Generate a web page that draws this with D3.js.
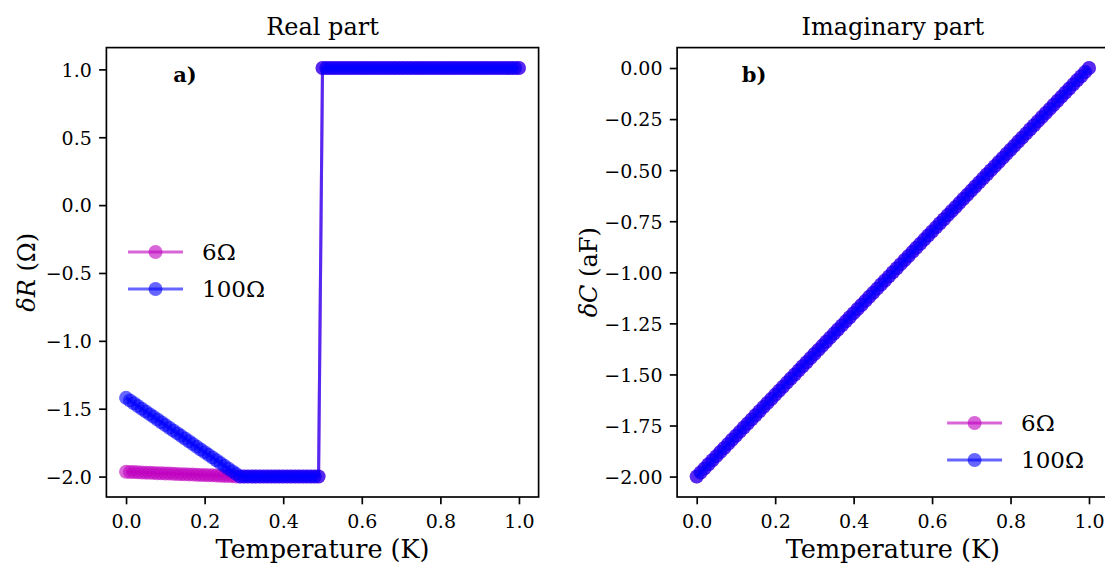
<!DOCTYPE html>
<html><head><meta charset="utf-8">
<script src="https://cdn.jsdelivr.net/npm/d3@7"></script>
<style>
body{margin:0;background:#fff}
svg{display:block}
text{font-family:"DejaVu Serif","Liberation Serif",serif;fill:#000}
</style>
</head><body>
<svg id="chart" width="1105" height="567"></svg>
<script>
// ---------------- data ----------------
const temperature = [
 0.00,0.01,0.02,0.03,0.04,0.05,0.06,0.07,0.08,0.09,
 0.10,0.11,0.12,0.13,0.14,0.15,0.16,0.17,0.18,0.19,
 0.20,0.21,0.22,0.23,0.24,0.25,0.26,0.27,0.28,0.29,
 0.30,0.31,0.32,0.33,0.34,0.35,0.36,0.37,0.38,0.39,
 0.40,0.41,0.42,0.43,0.44,0.45,0.46,0.47,0.48,0.49,
 0.50,0.51,0.52,0.53,0.54,0.55,0.56,0.57,0.58,0.59,
 0.60,0.61,0.62,0.63,0.64,0.65,0.66,0.67,0.68,0.69,
 0.70,0.71,0.72,0.73,0.74,0.75,0.76,0.77,0.78,0.79,
 0.80,0.81,0.82,0.83,0.84,0.85,0.86,0.87,0.88,0.89,
 0.90,0.91,0.92,0.93,0.94,0.95,0.96,0.97,0.98,0.99,
 1.00];
const real6 = [
 -1.965,-1.966,-1.967,-1.969,-1.970,-1.971,-1.972,-1.973,-1.975,-1.976,
 -1.977,-1.978,-1.979,-1.981,-1.982,-1.983,-1.984,-1.985,-1.987,-1.988,
 -1.989,-1.990,-1.991,-1.993,-1.994,-1.995,-1.996,-1.997,-1.999,-2.000,
 -2.00,-2.00,-2.00,-2.00,-2.00,-2.00,-2.00,-2.00,-2.00,-2.00,
 -2.00,-2.00,-2.00,-2.00,-2.00,-2.00,-2.00,-2.00,-2.00,-2.00,
 1.01,1.01,1.01,1.01,1.01,1.01,1.01,1.01,1.01,1.01,
 1.01,1.01,1.01,1.01,1.01,1.01,1.01,1.01,1.01,1.01,
 1.01,1.01,1.01,1.01,1.01,1.01,1.01,1.01,1.01,1.01,
 1.01,1.01,1.01,1.01,1.01,1.01,1.01,1.01,1.01,1.01,
 1.01,1.01,1.01,1.01,1.01,1.01,1.01,1.01,1.01,1.01,
 1.01];
const real100 = [
 -1.42,-1.44,-1.46,-1.48,-1.50,-1.52,-1.54,-1.56,-1.58,-1.60,
 -1.62,-1.64,-1.66,-1.68,-1.70,-1.72,-1.74,-1.76,-1.78,-1.80,
 -1.82,-1.84,-1.86,-1.88,-1.90,-1.92,-1.94,-1.96,-1.98,-2.00,
 -2.00,-2.00,-2.00,-2.00,-2.00,-2.00,-2.00,-2.00,-2.00,-2.00,
 -2.00,-2.00,-2.00,-2.00,-2.00,-2.00,-2.00,-2.00,-2.00,-2.00,
 1.01,1.01,1.01,1.01,1.01,1.01,1.01,1.01,1.01,1.01,
 1.01,1.01,1.01,1.01,1.01,1.01,1.01,1.01,1.01,1.01,
 1.01,1.01,1.01,1.01,1.01,1.01,1.01,1.01,1.01,1.01,
 1.01,1.01,1.01,1.01,1.01,1.01,1.01,1.01,1.01,1.01,
 1.01,1.01,1.01,1.01,1.01,1.01,1.01,1.01,1.01,1.01,
 1.01];
const imag6 = [
 -2.00,-1.98,-1.96,-1.94,-1.92,-1.90,-1.88,-1.86,-1.84,-1.82,
 -1.80,-1.78,-1.76,-1.74,-1.72,-1.70,-1.68,-1.66,-1.64,-1.62,
 -1.60,-1.58,-1.56,-1.54,-1.52,-1.50,-1.48,-1.46,-1.44,-1.42,
 -1.40,-1.38,-1.36,-1.34,-1.32,-1.30,-1.28,-1.26,-1.24,-1.22,
 -1.20,-1.18,-1.16,-1.14,-1.12,-1.10,-1.08,-1.06,-1.04,-1.02,
 -1.00,-0.98,-0.96,-0.94,-0.92,-0.90,-0.88,-0.86,-0.84,-0.82,
 -0.80,-0.78,-0.76,-0.74,-0.72,-0.70,-0.68,-0.66,-0.64,-0.62,
 -0.60,-0.58,-0.56,-0.54,-0.52,-0.50,-0.48,-0.46,-0.44,-0.42,
 -0.40,-0.38,-0.36,-0.34,-0.32,-0.30,-0.28,-0.26,-0.24,-0.22,
 -0.20,-0.18,-0.16,-0.14,-0.12,-0.10,-0.08,-0.06,-0.04,-0.02,
 0.00];
const imag100 = [
 -2.00,-1.98,-1.96,-1.94,-1.92,-1.90,-1.88,-1.86,-1.84,-1.82,
 -1.80,-1.78,-1.76,-1.74,-1.72,-1.70,-1.68,-1.66,-1.64,-1.62,
 -1.60,-1.58,-1.56,-1.54,-1.52,-1.50,-1.48,-1.46,-1.44,-1.42,
 -1.40,-1.38,-1.36,-1.34,-1.32,-1.30,-1.28,-1.26,-1.24,-1.22,
 -1.20,-1.18,-1.16,-1.14,-1.12,-1.10,-1.08,-1.06,-1.04,-1.02,
 -1.00,-0.98,-0.96,-0.94,-0.92,-0.90,-0.88,-0.86,-0.84,-0.82,
 -0.80,-0.78,-0.76,-0.74,-0.72,-0.70,-0.68,-0.66,-0.64,-0.62,
 -0.60,-0.58,-0.56,-0.54,-0.52,-0.50,-0.48,-0.46,-0.44,-0.42,
 -0.40,-0.38,-0.36,-0.34,-0.32,-0.30,-0.28,-0.26,-0.24,-0.22,
 -0.20,-0.18,-0.16,-0.14,-0.12,-0.10,-0.08,-0.06,-0.04,-0.02,
 0.00];
const seriesNames = ["6Ω", "100Ω"];
const seriesColors = ["#bf00bf", "#0000ff"];
const xTicks = [0.0, 0.2, 0.4, 0.6, 0.8, 1.0];
const realTicks = [-2.0, -1.5, -1.0, -0.5, 0.0, 0.5, 1.0];
const imagTicks = [-2.0, -1.75, -1.5, -1.25, -1.0, -0.75, -0.5, -0.25, 0.0];
const panelTitles = ["Real part", "Imaginary part"];
const panelLetters = ["a)", "b)"];
const letterPos = [[0.12, 0.904], [0.115, -0.07]];
const xLabel = "Temperature (K)";

// ---------------- layout ----------------
const svg = d3.select("#chart");
const axTop = 47.6, axBottom = 497;
const panels = [
  {left:106.4, right:538.6, series:[real6, real100], ticks:realTicks, fmt:d3.format(".1f"),
   ylab:["δR", " (Ω)"], ylabX:35, legend:{dx:21.6, dy:[204.4, 241.4]}},
  {left:677.1, right:1108.6, series:[imag6, imag100], ticks:imagTicks, fmt:d3.format(".2f"),
   ylab:["δC", " (aF)"], ylabX:597, legend:{dx:270, dy:[375.4, 412.4]}}
];
const ALPHA = 0.6, LW = 3.1, R = 7, SPW = 1.67, TL = 7.3;

panels.forEach((p, pi) => {
  const all = p.series.flat();
  const [mn, mx] = d3.extent(all);
  const m = (mx - mn) * 0.05;
  const x = d3.scaleLinear().domain([-0.05, 1.05]).range([p.left, p.right]);
  const y = d3.scaleLinear().domain([mn - m, mx + m]).range([axBottom, axTop]);
  const g = svg.append("g");
  const clipId = "clip" + pi;
  g.append("clipPath").attr("id", clipId).append("rect")
    .attr("x", p.left).attr("y", axTop).attr("width", p.right - p.left).attr("height", axBottom - axTop);
  const plot = g.append("g").attr("clip-path", `url(#${clipId})`);
  const line = d3.line().x((d, i) => x(temperature[i])).y(d => y(d));
  p.series.forEach((vals, si) => {
    plot.append("path").datum(vals).attr("d", line)
      .attr("fill", "none").attr("stroke", seriesColors[si])
      .attr("stroke-opacity", ALPHA).attr("stroke-width", LW).attr("stroke-linejoin", "round");
    plot.append("g").selectAll("circle").data(vals).join("circle")
      .attr("cx", (d, i) => x(temperature[i])).attr("cy", d => y(d)).attr("r", R)
      .attr("fill", seriesColors[si]).attr("fill-opacity", ALPHA);
  });

  // axes
  const xAxis = d3.axisBottom(x).tickValues(xTicks).tickFormat(d3.format(".1f"))
    .tickSize(TL).tickPadding(7.3);
  const gx = g.append("g").attr("transform", `translate(0,${axBottom})`).call(xAxis);
  const yAxis = d3.axisLeft(y).tickValues(p.ticks).tickFormat(p.fmt).tickSize(TL).tickPadding(7.3);
  const gy = g.append("g").attr("transform", `translate(${p.left},0)`).call(yAxis);
  [gx, gy].forEach(a => {
    a.select(".domain").remove();
    a.selectAll(".tick line").attr("stroke", "#000").attr("stroke-width", SPW);
    a.selectAll(".tick text").attr("font-family", "DejaVu Serif").attr("font-size", 19).attr("fill", "#000");
  });
  gx.selectAll(".tick text").attr("dy", null).attr("y", 31);
  gy.selectAll(".tick text").attr("dy", "0.36em");

  // frame
  g.append("rect").attr("x", p.left).attr("y", axTop).attr("width", p.right - p.left)
    .attr("height", axBottom - axTop).attr("fill", "none").attr("stroke", "#000").attr("stroke-width", SPW);

  const cx = (p.left + p.right) / 2;
  g.append("text").attr("x", cx).attr("y", 35).attr("text-anchor", "middle")
    .attr("font-size", 24).text(panelTitles[pi]);
  g.append("text").attr("x", cx).attr("y", 558).attr("text-anchor", "middle")
    .attr("font-size", 25.5).text(xLabel);
  const yl = g.append("text").attr("transform", `translate(${p.ylabX},${(axTop + axBottom) / 2}) rotate(-90)`)
    .attr("text-anchor", "middle").attr("font-size", 24);
  yl.append("tspan").attr("font-style", "italic").text(p.ylab[0]);
  yl.append("tspan").text(p.ylab[1]);

  g.append("text").attr("x", x(letterPos[pi][0])).attr("y", y(letterPos[pi][1]))
    .attr("font-size", 21).attr("font-weight", "bold").text(panelLetters[pi]);

  // legend
  seriesNames.forEach((name, si) => {
    const ly = axTop + p.legend.dy[si];
    const lx = p.left + p.legend.dx;
    g.append("line").attr("x1", lx).attr("x2", lx + 55).attr("y1", ly).attr("y2", ly)
      .attr("stroke", seriesColors[si]).attr("stroke-opacity", ALPHA).attr("stroke-width", LW);
    g.append("circle").attr("cx", lx + 27.5).attr("cy", ly).attr("r", R)
      .attr("fill", seriesColors[si]).attr("fill-opacity", ALPHA);
    g.append("text").attr("x", lx + 74).attr("y", ly).attr("dy", "0.36em")
      .attr("font-size", 23).text(name);
  });
});
</script>
</body></html>
